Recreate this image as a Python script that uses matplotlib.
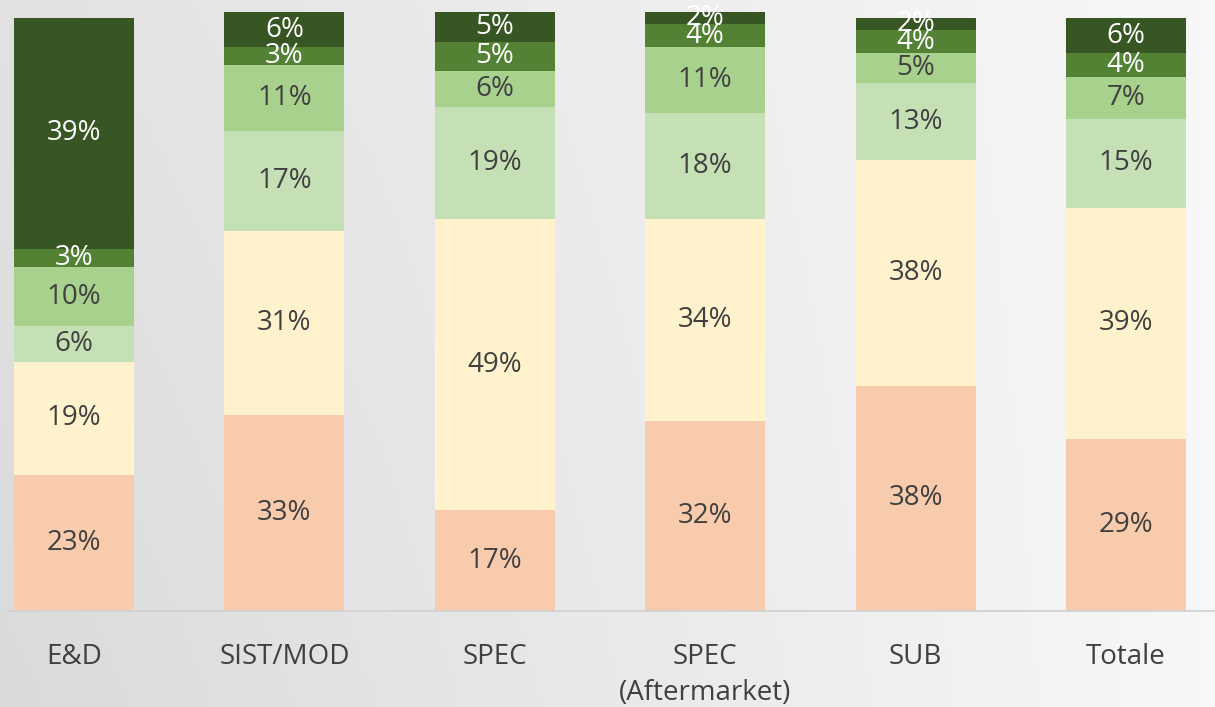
import numpy as np
import matplotlib
matplotlib.use("Agg")
import matplotlib.pyplot as plt

categories = ["E&D", "SIST/MOD", "SPEC", "SPEC\n(Aftermarket)", "SUB", "Totale"]
seg1 = [23, 33, 17, 32, 38, 29]   # peach
seg2 = [19, 31, 49, 34, 38, 39]   # cream
seg3 = [6, 17, 19, 18, 13, 15]    # pale green
seg4 = [10, 11, 6, 11, 5, 7]      # light green
seg5 = [3, 3, 5, 4, 4, 4]         # mid green
seg6 = [39, 6, 5, 2, 2, 6]        # dark green

series = [seg1, seg2, seg3, seg4, seg5, seg6]
colors = ["#F8CBAD", "#FFF2CC", "#C5E0B4", "#A9D18E", "#548235", "#375623"]
text_colors = ["#404040", "#404040", "#404040", "#404040", "white", "white"]

plt.rcParams['font.family'] = ['Open Sans', 'DejaVu Sans']

fig = plt.figure(figsize=(12.15, 7.07), dpi=100)

# background gradient
bg = fig.add_axes([0, 0, 1, 1], zorder=0)
xx = np.linspace(0, 1, 300)
yy = np.linspace(0, 1, 200)
X, Y = np.meshgrid(xx, yy)
val = 0.855 + 0.115 * X + 0.03 * Y * (1 - X)
val = np.clip(val, 0, 1)
img = np.dstack([val, val, val])
bg.imshow(img, extent=[0, 1, 0, 1], aspect='auto', origin='lower')
bg.axis('off')

ax = fig.add_axes([0, 0.1358, 1, 0.8642], zorder=1)
ax.patch.set_alpha(0)

x = np.arange(len(categories))
bottom = np.zeros(len(categories))
for vals, c, tc in zip(series, colors, text_colors):
    vals = np.array(vals, dtype=float)
    ax.bar(x, vals, bottom=bottom, width=0.57, color=c, edgecolor='none')
    for xi, b, v in zip(x, bottom, vals):
        ax.text(xi, b + v / 2, f"{int(v)}%", ha='center', va='center',
                color=tc, fontsize=20)
    bottom += vals

ax.set_xlim(-0.352, 5.423)
ax.set_ylim(0, 103)
for s in ['top', 'right', 'left']:
    ax.spines[s].set_visible(False)
ax.spines['bottom'].set_color('#D0D0D0')
ax.spines['bottom'].set_linewidth(1.2)
ax.spines['bottom'].set_bounds(-0.32, 5.423)
ax.set_yticks([])
ax.set_xticks(x)
ax.set_xticklabels(categories, fontsize=20, color='#404040', linespacing=1.38)
ax.tick_params(axis='x', length=0, pad=23)

fig.savefig("out.png", dpi=100)
